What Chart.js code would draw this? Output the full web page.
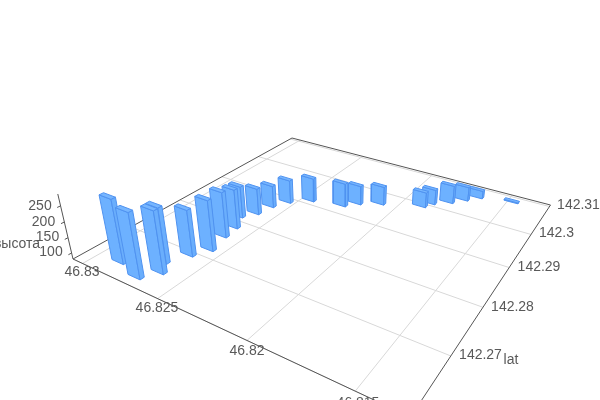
<!DOCTYPE html>
<html>
<head>
<meta charset="utf-8">
<script src="https://cdn.jsdelivr.net/npm/chart.js@4"></script>
<style>body{margin:0;background:#fff}canvas{display:block}</style>
</head>
<body>
<canvas id="c" width="600" height="400"></canvas>
<script>
var lonTicks = [46.83, 46.825, 46.82, 46.815];
var latTicks = [142.26, 142.27, 142.28, 142.29, 142.3, 142.31];
var heightTicks = [100, 150, 200, 250];

var barLon = [46.8287, 46.8271, 46.8265, 46.8270, 46.8264, 46.8259, 46.8262, 46.8263, 46.8268, 46.8263, 46.8261,
   46.8256, 46.8246, 46.8228, 46.8222, 46.8211, 46.8190, 46.8187, 46.8179, 46.8173, 46.8167, 46.8148];
var barLat = [142.2631, 142.2619, 142.2643, 142.2662, 142.2694, 142.2719, 142.2756, 142.2784, 142.2813, 142.2834, 142.2864,
   142.2890, 142.2914, 142.2927, 142.2946, 142.2965, 142.2993, 142.3010, 142.3029, 142.3050, 142.3070, 142.3085];
var barHeight = [285, 286, 278, 259, 231, 246, 232, 213, 189, 171, 157,
   162, 164, 163, 147, 145, 134, 133, 144, 130, 108, 83];

// floor of the 3d box: lon/lat range, its corners on screen, then a homography between the two
var lonMax = 46.8307, lonMin = 46.8128, latMin = 142.2600, latMax = 142.3106, zMin = 80, zMax = 286;
var x0=73, y0=259, x1=410.5, y1=417, x2=550.5, y2=205, x3=292, y3=138;
var dx1=x1-x2, dx2=x3-x2, dx3=x0-x1+x2-x3, dy1=y1-y2, dy2=y3-y2, dy3=y0-y1+y2-y3;
var det=dx1*dy2-dx2*dy1, g=(dx3*dy2-dx2*dy3)/det, h=(dx1*dy3-dx3*dy1)/det;
var a=x1-x0+g*x1, b=x3-x0+h*x3, c=x0, d=y1-y0+g*y1, e=y3-y0+h*y3, f=y0;
// vanishing point of the verticals
var vpX = 340, vpY = 1400, lift = -0.0539/206;

function ground(lon, lat){
   var s=(lonMax-lon)/(lonMax-lonMin), t=(lat-latMin)/(latMax-latMin);
   return [a*s+b*t+c, d*s+e*t+f, g*s+h*t+1];
}
function project(lon, lat, z){
   var p=ground(lon,lat), k=lift*(z-zMin);
   return {x:(p[0]+k*vpX)/(p[2]+k), y:(p[1]+k*vpY)/(p[2]+k)};
}

var datasets = [];
function line(pts, color){
   datasets.push({data:pts, showLine:true, borderColor:color, borderWidth:1, pointRadius:0, fill:false});
}
function face(pts, color){
   datasets.push({data:pts.concat([pts[0]]), showLine:true, borderColor:'#4f92f0', borderWidth:1, backgroundColor:color, pointRadius:0, fill:'shape'});
}

// chart.js paints the last dataset first, so nearest bars go in first
var halfLon = 0.0004, halfLat = 0.00035;
var order = barLon.map(function(v,i){return i;}).sort(function(p,q){
   return ground(barLon[p],barLat[p])[2]-ground(barLon[q],barLat[q])[2];
});
order.forEach(function(i){
   var z=barHeight[i], lo=barLon[i], la=barLat[i];
   var l=lo+halfLon, r=lo-halfLon, n=la-halfLat, m=la+halfLat;
   face([project(l,n,z),project(r,n,z),project(r,m,z),project(l,m,z)],'#76b6ff');
   face([project(r,n,zMin),project(r,m,zMin),project(r,m,z),project(r,n,z)],'#6aaefc');
   face([project(l,n,zMin),project(r,n,zMin),project(r,n,z),project(l,n,z)],'#6db1ff');
});

line([project(lonMax,latMin,zMin),project(lonMax,latMin,zMax)],'#555');
heightTicks.forEach(function(v){line([project(lonMax,latMin,v),project(lonMax,latMin-0.0005,v)],'#555');});
line([project(lonMax,latMin,zMin),project(lonMax,latMax,zMin),project(lonMin,latMax,zMin),project(lonMin,latMin,zMin),project(lonMax,latMin,zMin)],'#555');
lonTicks.forEach(function(v){line([project(v,latMin,zMin),project(v,latMax,zMin)],'#d8d8d8');});
latTicks.forEach(function(v){line([project(lonMax,v,zMin),project(lonMin,v,zMin)],'#d8d8d8');});

var labels = [['250',40,206],['200',43.5,222],['150',47.5,237],['100',51,252.5],['высота',17,244],
   ['46.83',82,272],['46.825',157,308],['46.82',247,351],['46.815',358,403],
   ['142.31',578.5,205],['142.3',556.5,233],['142.29',539,267],['142.28',512.5,307],['142.27',480.5,355],['lat',511,360]];
var axisText = {id:'axisText', afterDatasetsDraw:function(chart){
   var ctx=chart.ctx;
   ctx.save();
   ctx.fillStyle='#595959';
   ctx.font='14px "Liberation Sans"';
   ctx.textAlign='center';
   ctx.textBaseline='middle';
   labels.forEach(function(l){ctx.fillText(l[0],l[1],l[2]);});
   ctx.restore();
}};

new Chart(document.getElementById('c'), {
   type:'scatter',
   data:{datasets:datasets},
   plugins:[axisText],
   options:{
      responsive:false,
      animation:false,
      layout:{padding:0},
      plugins:{legend:{display:false}, tooltip:{enabled:false}},
      scales:{
         x:{display:false, min:0, max:600},
         y:{display:false, min:0, max:400, reverse:true}
      }
   }
});
</script>
</body>
</html>
